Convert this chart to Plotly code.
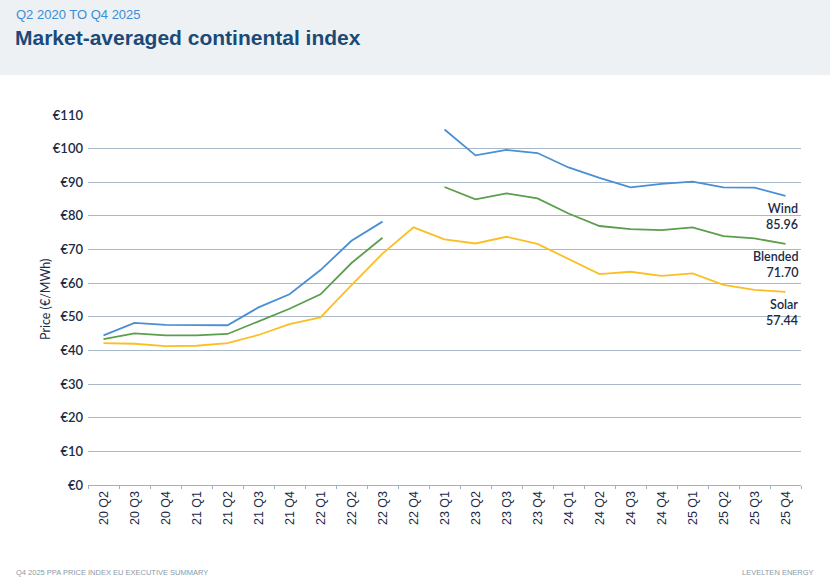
import plotly.graph_objects as go

categories = ["20 Q2", "20 Q3", "20 Q4", "21 Q1", "21 Q2", "21 Q3", "21 Q4", "22 Q1", "22 Q2", "22 Q3", "22 Q4",
              "23 Q1", "23 Q2", "23 Q3", "23 Q4", "24 Q1", "24 Q2", "24 Q3", "24 Q4", "25 Q1", "25 Q2", "25 Q3", "25 Q4"]
wind = [44.5, 48.2, 47.6, 47.5, 47.5, 52.8, 56.7, 63.9, 72.6, 78.3, None,
        105.7, 98.0, 99.6, 98.7, 94.4, 91.3, 88.5, 89.5, 90.2, 88.5, 88.4, 85.96]
blended = [43.4, 45.1, 44.5, 44.5, 44.9, 48.7, 52.4, 56.7, 66.0, 73.5, None,
           88.6, 84.9, 86.7, 85.2, 80.7, 77.0, 76.1, 75.8, 76.6, 74.0, 73.3, 71.70]
solar = [42.2, 42.0, 41.3, 41.4, 42.2, 44.6, 47.8, 49.8, 59.4, 68.8, 76.6,
         73.0, 71.8, 73.8, 71.7, 67.3, 62.7, 63.4, 62.2, 62.9, 59.5, 58.0, 57.44]
series_names = ["Wind", "Blended", "Solar"]
series_colors = ["#4a8fd4", "#5b9e4c", "#fbbf24"]
y_ticks = [0, 10, 20, 30, 40, 50, 60, 70, 80, 90, 100, 110]

W, H = 830, 588
L, R, T, B = 88, 29, 115, 103
pw, ph = W - L - R, H - T - B

def px_x(x):
    return (x - L) / pw

def px_y(y):
    return (H - B - y) / ph

NAVY = "#1b2a47"
fig = go.Figure()
for name, vals, col in zip(series_names, [wind, blended, solar], series_colors):
    fig.add_trace(go.Scatter(x=categories, y=vals, mode="lines", name=name,
                             line=dict(color=col, width=1.8), connectgaps=False,
                             hoverinfo="skip"))

for name, vals in zip(series_names, [wind, blended, solar]):
    fig.add_annotation(x=px_x(800), xref="paper", y=vals[-1], yref="y",
                       text=f"{name}<br>{vals[-1]:.2f}", showarrow=False,
                       xanchor="right", yanchor="top", yshift=-3, align="right",
                       font=dict(family="Lato", size=12.5, color=NAVY, weight=600))

fig.update_layout(
    width=W, height=H,
    margin=dict(l=L, r=R, t=T, b=B),
    paper_bgcolor="white", plot_bgcolor="white",
    showlegend=False,
    xaxis=dict(type="category", tickangle=-90, showgrid=False,
               showline=True, linecolor="#9fb0c2", linewidth=1,
               ticks="outside", ticklen=3, tickcolor="#9fb0c2", tickson="boundaries",
               tickfont=dict(family="Liberation Sans", size=12.5, color=NAVY),
               range=[-0.5, len(categories) - 0.5], fixedrange=True),
    yaxis=dict(range=[0, 110], tickvals=y_ticks, ticktext=[f"€{v}" for v in y_ticks],
               showgrid=True, gridcolor="#a9b8c8", gridwidth=1, zeroline=False,
               showline=False, ticks="", ticklabelstandoff=4,
               tickfont=dict(family="Lato", size=13, color=NAVY, weight=600), fixedrange=True),
    shapes=[dict(type="rect", xref="paper", yref="paper",
                 x0=px_x(0), x1=px_x(W), y0=px_y(75), y1=px_y(0),
                 fillcolor="#edf1f4", line=dict(width=0), layer="below")],
    annotations=list(fig.layout.annotations) + [
        dict(x=px_x(14), y=px_y(5), xref="paper", yref="paper", xanchor="left", yanchor="top",
             text="Q2 2020 TO Q4 2025", showarrow=False,
             font=dict(family="Liberation Sans", size=13, color="#3b8ed6")),
        dict(x=px_x(13), y=px_y(24), xref="paper", yref="paper", xanchor="left", yanchor="top",
             text="<b>Market-averaged continental index</b>", showarrow=False,
             font=dict(family="Liberation Sans", size=21, color="#1b4a78")),
        dict(x=px_x(45), y=0.5, xref="paper", yref="paper", xanchor="center", yanchor="middle",
             text="Price (€/MWh)", textangle=-90, showarrow=False,
             font=dict(family="Lato", size=12.5, color=NAVY)),
        dict(x=px_x(14), y=px_y(572), xref="paper", yref="paper", xanchor="left", yanchor="middle",
             text="Q4 2025 PPA PRICE INDEX EU EXECUTIVE SUMMARY", showarrow=False,
             font=dict(family="Liberation Sans Narrow, Liberation Sans", size=7.5, color="#8a9aaa")),
        dict(x=px_x(816), y=px_y(572), xref="paper", yref="paper", xanchor="right", yanchor="middle",
             text="LEVELTEN ENERGY", showarrow=False,
             font=dict(family="Liberation Sans Narrow, Liberation Sans", size=7.5, color="#8a9aaa")),
    ],
)

fig.write_html("out.html", config={"displayModeBar": False, "staticPlot": True})
with open("out.html", "r", encoding="utf-8") as f:
    html = f.read()
html = html.replace("<head>", "<head><style>html,body{margin:0;padding:0;overflow:hidden;}</style>", 1)
with open("out.html", "w", encoding="utf-8") as f:
    f.write(html)
